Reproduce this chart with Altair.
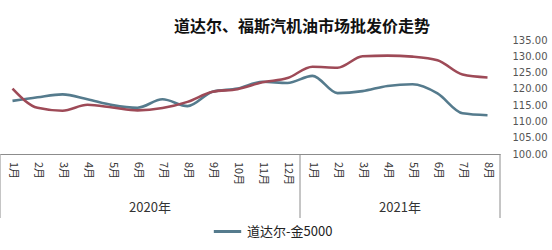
import altair as alt
import pandas as pd

months = ["1月", "2月", "3月", "4月", "5月", "6月", "7月", "8月", "9月", "10月", "11月", "12月",
          "1月", "2月", "3月", "4月", "5月", "6月", "7月", "8月"]
years = ["2020年"] * 12 + ["2021年"] * 8
daoda = [116.3, 117.4, 118.3, 116.8, 115.0, 114.2, 116.8, 114.7, 119.1, 120.1, 122.2, 121.8,
         124.0, 118.7, 119.3, 120.9, 121.4, 118.6, 112.5, 111.9]
fusi = [120.1, 114.2, 113.3, 115.1, 114.3, 113.4, 114.1, 116.0, 119.1, 119.9, 122.0, 123.3,
        126.8, 126.5, 130.0, 130.2, 129.9, 128.8, 124.4, 123.5]
series_names = ["道达尔-金5000", "福斯"]
colors = ["#557b8d", "#9e4a57"]
y_ticks = [100, 105, 110, 115, 120, 125, 130, 135]

rows = []
for i, m in enumerate(months):
    rows.append({"pos": i + 0.5, "month": m, "year": years[i], "series": series_names[0], "value": daoda[i]})
    rows.append({"pos": i + 0.5, "month": m, "year": years[i], "series": series_names[1], "value": fusi[i]})
df = pd.DataFrame(rows)

month_df = pd.DataFrame({"pos": [i + 0.5 for i in range(len(months))], "month": months})

# year groups
groups = []
bounds = [0]
start = 0
for y in dict.fromkeys(years):
    n = years.count(y)
    groups.append({"year": y, "center": start + n / 2})
    start += n
    bounds.append(start)
year_df = pd.DataFrame(groups)
bound_df = pd.DataFrame({"b": bounds})

N = len(months)
xscale = alt.Scale(domain=[0, N], nice=False, zero=False)

lines = alt.Chart(df).mark_line(interpolate="monotone", strokeWidth=2.6).encode(
    x=alt.X("pos:Q", scale=xscale,
            axis=alt.Axis(title=None, labels=False, ticks=False, grid=False,
                          domainColor="#8c8c8c", domainWidth=1)),
    y=alt.Y("value:Q", scale=alt.Scale(domain=[100, 135], nice=False, zero=False),
            axis=alt.Axis(orient="right", title=None, values=y_ticks, format=".2f",
                          grid=False, domain=False, ticks=False, labelPadding=12,
                          labelFont="DejaVu Sans", labelFontSize=10, labelColor="#555555")),
    color=alt.Color("series:N",
                    scale=alt.Scale(domain=series_names, range=colors),
                    legend=alt.Legend(values=[series_names[0]], title=None, orient="none",
                                      legendX=212, legendY=176, symbolType="stroke",
                                      symbolSize=750, symbolStrokeWidth=3,
                                      labelFont="Noto Sans CJK SC", labelFontSize=13,
                                      labelColor="#222222", labelOffset=4)),
    order="series:N",
)

month_text = alt.Chart(month_df).mark_text(
    angle=90, align="left", baseline="middle", font="Noto Sans CJK SC", fontSize=11, color="#333333"
).encode(x=alt.X("pos:Q", scale=xscale), y=alt.value(122), text="month:N")

year_text = alt.Chart(year_df).mark_text(
    align="center", baseline="middle", font="Noto Sans CJK SC", fontSize=13, color="#333333"
).encode(x=alt.X("center:Q", scale=xscale), y=alt.value(168), text="year:N")

seps = alt.Chart(bound_df).mark_rule(color="#8c8c8c", strokeWidth=1).encode(
    x=alt.X("b:Q", scale=xscale), y=alt.value(114), y2=alt.value(178)
)

chart = alt.layer(seps, lines, month_text, year_text).properties(
    width=500, height=114,
    background="white",
    title=alt.TitleParams("道达尔、福斯汽机油市场批发价走势", font="Noto Sans CJK SC", fontSize=16,
                          fontWeight="bold", color="#111111", anchor="middle", dx=52, offset=0),
    autosize=alt.AutoSizeParams(type="none"),
    padding={"left": 0, "top": 40, "right": 52, "bottom": 96},
).configure_view(strokeWidth=0)

chart.save("out.html", embed_options={"renderer": "svg", "actions": False})
